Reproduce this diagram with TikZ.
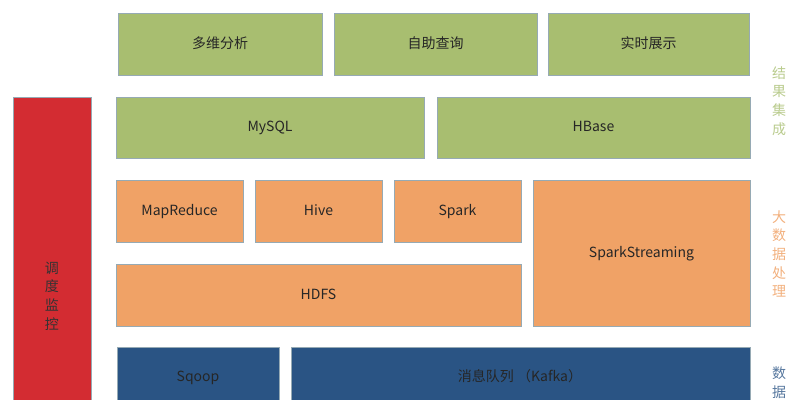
\documentclass[tikz,border=0pt]{standalone}
\usepackage{fontspec}
\setmainfont{Noto Sans CJK SC}
\definecolor{resgreen}{RGB}{168,190,112}
\definecolor{procorange}{RGB}{240,162,102}
\definecolor{collblue}{RGB}{42,84,132}
\definecolor{schedred}{RGB}{211,44,50}
\definecolor{boxline}{RGB}{150,170,180}
\tikzset{every picture/.style={line width=0.75pt}}
\tikzset{
  layer/.style={draw=boxline, line width=0.6pt},
  greenbox/.style={layer, fill=resgreen},
  orangebox/.style={layer, fill=procorange},
  bluebox/.style={layer, fill=collblue},
  redbox/.style={layer, fill=schedred},
  boxtext/.style={font=\fontsize{10.5}{12}\selectfont, text=black!85, text height=1.6ex, text depth=0.4ex},
  sidetext/.style={font=\fontsize{10.5}{14}\selectfont, align=center}
}
\begin{document}
\begin{tikzpicture}[x=0.75pt,y=0.75pt,yscale=-1,xscale=1]
		\useasboundingbox (0,0) rectangle (794,400);
		
		% top row
		\draw [greenbox] (118,13) rectangle (322,75) node[midway,boxtext] (multi) {多维分析};
		\draw [greenbox] (334,13) rectangle (537,75) node[midway,boxtext] (self) {自助查询};
		\draw [greenbox] (548,13) rectangle (749,75) node[midway,boxtext] (realtime) {实时展示};
		
		% result stores
		\draw [greenbox] (116,97) rectangle (424,158) node[midway,boxtext] (mysql) {MySQL};
		\draw [greenbox] (437,97) rectangle (750,158) node[midway,boxtext] (hbase) {HBase};
		
		% processing
		\draw [orangebox] (116,180) rectangle (243,242) node[midway,boxtext] (mapred) {MapReduce};
		\draw [orangebox] (255,180) rectangle (382,242) node[midway,boxtext] (hive) {Hive};
		\draw [orangebox] (394,180) rectangle (521,242) node[midway,boxtext] (spark) {Spark};
		\draw [orangebox] (533,180) rectangle (750,326) node[midway,boxtext] (sstream) {SparkStreaming};
		\draw [orangebox] (116,264) rectangle (521,326) node[midway,boxtext] (hdfs) {HDFS};
		
		% collection
		\draw [bluebox] (117,347) rectangle (279,420);
		\draw [bluebox] (291,347) rectangle (750,420);
		\node [boxtext] (sqoop) at (198,377) {Sqoop};
		\node [boxtext] (kafka) at (520,377) {消息队列 （Kafka）};
		
		% scheduling
		\draw [redbox] (13,97) rectangle (91,420);
		\node [sidetext, text=black!80] (sched) at (52,296) {调\\度\\监\\控};
		
		% side labels
		\node [sidetext, text=resgreen!80] (lblres) at (779,101) {结\\果\\集\\成};
		\node [sidetext, text=procorange!85] (lblproc) at (779,254) {大\\数\\据\\处\\理};
		\node [sidetext, text=collblue!80, anchor=north] (lblcoll) at (779,362) {数\\据};
		
\end{tikzpicture}
\end{document}
